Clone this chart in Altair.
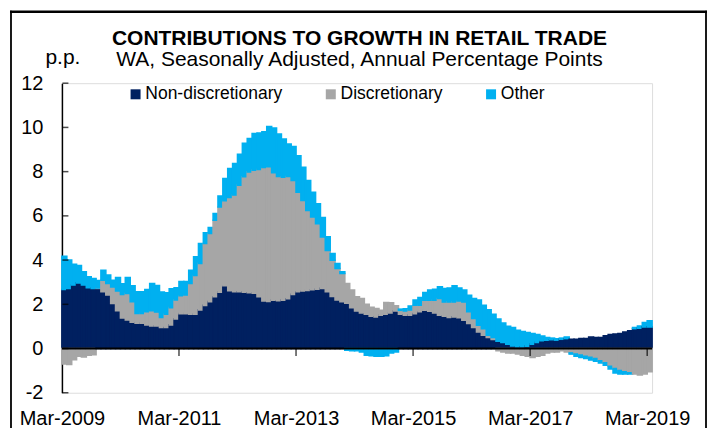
import altair as alt
import pandas as pd

# ---- data (monthly, Mar-2009 .. Mar-2019), annual percentage-point contributions ----
nondisc = [2.67, 2.72, 2.87, 2.97, 2.87, 2.75, 2.72, 2.72, 2.57, 2.42,
           2.04, 1.71, 1.38, 1.29, 1.19, 1.14, 1.14, 1.07, 1.02, 1.02,
           0.95, 0.95, 1.07, 1.34, 1.58, 1.58, 1.55, 1.55, 1.75, 1.95,
           2.12, 2.34, 2.55, 2.84, 2.62, 2.57, 2.57, 2.55, 2.52, 2.50,
           2.34, 2.15, 2.13, 2.19, 2.16, 2.19, 2.25, 2.45, 2.57, 2.60,
           2.63, 2.66, 2.68, 2.72, 2.57, 2.36, 2.20, 2.12, 2.05, 1.85,
           1.70, 1.61, 1.55, 1.46, 1.43, 1.51, 1.55, 1.61, 1.70, 1.55,
           1.51, 1.51, 1.58, 1.66, 1.73, 1.69, 1.61, 1.51, 1.46, 1.40,
           1.43, 1.39, 1.28, 1.13, 0.95, 0.75, 0.60, 0.50, 0.41, 0.33,
           0.27, 0.20, 0.12, 0.08, 0.08, 0.11, 0.20, 0.28, 0.35, 0.38,
           0.40, 0.38, 0.42, 0.45, 0.42, 0.42, 0.45, 0.45, 0.52, 0.50,
           0.50, 0.58, 0.63, 0.65, 0.68, 0.75, 0.80, 0.90, 0.92, 0.98,
           0.98]
disc = [-0.70, -0.72, -0.50, -0.35, -0.38, -0.30, -0.28, 0.02, 0.52, 0.52,
        0.75, 0.89, 1.07, 1.20, 0.93, 0.45, 0.45, 0.60, 0.69, 0.63,
        0.45, 0.60, 0.78, 0.86, 0.81, 0.84, 1.39, 1.75, 2.10, 2.80,
        3.08, 3.46, 3.85, 3.84, 4.21, 4.37, 4.82, 5.22, 5.47, 5.57,
        5.76, 6.04, 6.09, 5.76, 5.62, 5.56, 5.53, 5.15, 4.50, 4.10,
        3.62, 3.29, 2.97, 2.33, 1.87, 1.63, 1.42, 1.27, 0.89, 0.79,
        0.64, 0.65, 0.45, 0.40, 0.38, 0.22, 0.53, 0.46, 0.23, 0.18,
        0.19, 0.24, 0.38, 0.30, 0.46, 0.50, 0.58, 0.75, 0.65, 0.71,
        0.68, 0.76, 0.83, 0.53, 0.41, 0.31, 0.30, 0.10, 0.09, -0.10,
        -0.15, -0.20, -0.20, -0.25, -0.30, -0.35, -0.40, -0.35, -0.30, -0.20,
        -0.15, -0.15, -0.10, -0.15, -0.20, -0.25, -0.30, -0.35, -0.40, -0.45,
        -0.55, -0.65, -0.80, -0.90, -1.00, -1.05, -1.10, -1.15, -1.20, -1.15,
        -1.05]
other = [1.50, 1.28, 0.94, 0.78, 0.60, 0.49, 0.45, 0.33, 0.45, 0.38,
         0.30, 0.61, 0.48, 0.72, 0.72, 0.98, 0.98, 1.00, 1.23, 1.20,
         1.15, 0.97, 0.85, 0.55, 0.64, 0.61, 0.60, 0.85, 0.90, 0.48,
         0.27, 0.30, 0.50, 1.01, 1.31, 1.43, 1.39, 1.51, 1.51, 1.65,
         1.65, 1.61, 1.82, 2.02, 1.92, 1.72, 1.47, 1.53, 1.65, 1.50,
         1.35, 1.12, 0.90, 0.87, 0.61, 0.30, 0.22, 0.08, -0.08, -0.10,
         -0.10, -0.15, -0.30, -0.33, -0.35, -0.35, -0.33, -0.20, -0.15, 0.05,
         0.10, 0.17, 0.23, 0.35, 0.34, 0.45, 0.49, 0.53, 0.60, 0.63,
         0.73, 0.59, 0.53, 0.75, 0.90, 1.13, 1.06, 1.15, 1.05, 1.00,
         0.88, 0.81, 0.83, 0.75, 0.69, 0.61, 0.48, 0.35, 0.21, 0.12,
         0.07, 0.06, 0.05, 0.07, -0.05, -0.10, -0.10, -0.10, -0.12, -0.12,
         -0.10, -0.10, -0.12, -0.20, -0.15, -0.10, -0.05, 0.05, 0.10, 0.20,
         0.27]

series_names = ["Non-discretionary", "Discretionary", "Other"]
series_colors = ["#002060", "#A6A6A6", "#00B0F0"]
tick_idx = [0, 24, 48, 72, 96, 120]
tick_labels = ["Mar-2009", "Mar-2011", "Mar-2013", "Mar-2015", "Mar-2017", "Mar-2019"]
y_ticks = [-2, 0, 2, 4, 6, 8, 10, 12]

FONT = "Liberation Sans"
n_months = len(nondisc)

rows = []
for i in range(n_months):
    for k, vals in enumerate([nondisc, disc, other]):
        rows.append({"idx": i, "idx2": i + 1, "series": series_names[k],
                     "ord": k, "contrib": vals[i]})
df = pd.DataFrame(rows)

label_expr = "[" + ",".join("'%s'" % t for t in tick_labels) + "][round(datum.value / 24)]"

x_scale = alt.Scale(domain=[0, n_months], nice=False, zero=False)
y_scale = alt.Scale(domain=[-2, 12], nice=False)

bars = alt.Chart(df).transform_stack(
    stack="contrib", groupby=["idx"], as_=["value", "value2"],
    sort=[alt.SortField("ord", order="ascending")], offset="zero",
).mark_bar(strokeWidth=1.6).encode(
    x=alt.X("idx:Q", scale=x_scale,
            axis=alt.Axis(values=tick_idx, labelExpr=label_expr, domain=False,
                          ticks=False, tickSize=0, grid=False, labelFontSize=20,
                          labelFont=FONT, labelColor="black", labelPadding=16,
                          labelFlush=False, labelOverlap=False, title=None)),
    x2="idx2:Q",
    y=alt.Y("value:Q", scale=y_scale,
            axis=alt.Axis(values=y_ticks, labelExpr="'' + datum.value", domain=True,
                          domainColor="black", domainWidth=1.5, ticks=False, tickSize=0,
                          grid=False, labelFontSize=20, labelFont=FONT,
                          labelColor="black", labelPadding=19, title="p.p.",
                          titleAngle=0, titleX=-17, titleY=-20, titleAlign="left",
                          titleBaseline="alphabetic", titleFontSize=21,
                          titleFontWeight="normal", titleFont=FONT,
                          titleColor="black")),
    y2="value2:Q",
    color=alt.Color("series:N",
                    scale=alt.Scale(domain=series_names, range=series_colors),
                    legend=alt.Legend(title=None, orient="none", legendX=65, legendY=2,
                                      direction="horizontal", symbolType="square",
                                      symbolSize=100, symbolStrokeWidth=0,
                                      labelFontSize=17.5, labelFont=FONT,
                                      labelColor="black", labelOffset=1,
                                      columnPadding=39.5, padding=0)),
    stroke=alt.Stroke("series:N",
                      scale=alt.Scale(domain=series_names, range=series_colors),
                      legend=None),
)

zero_line = alt.Chart(pd.DataFrame({"idx": [0], "idx2": [n_months], "value": [0]})).mark_rule(
    color="black", strokeWidth=2).encode(x="idx:Q", x2="idx2:Q", y="value:Q")

x_ticks = alt.Chart(pd.DataFrame({"idx": tick_idx[1:], "value": [0] * (len(tick_idx) - 1)})).mark_tick(
    orient="vertical", size=7, thickness=1.5, color="black", yOffset=4).encode(
    x="idx:Q", y="value:Q")

y_tick_marks = alt.Chart(pd.DataFrame({"value": y_ticks})).mark_tick(
    orient="horizontal", size=6, thickness=1.5, color="black").encode(
    y="value:Q", x=alt.value(3.5))

# outer chart border (decoration): top, left and right edges
one = pd.DataFrame({"a": [0]})
frame_top = alt.Chart(one).mark_rule(color="black", strokeWidth=2.4).encode(
    x=alt.value(-52), x2=alt.value(646), y=alt.value(-71.5))
frame_left = alt.Chart(one).mark_rule(color="black", strokeWidth=1.8).encode(
    x=alt.value(-51), y=alt.value(-72.5), y2=alt.value(420))
frame_right = alt.Chart(one).mark_rule(color="black", strokeWidth=1.8).encode(
    x=alt.value(645), y=alt.value(-72.5), y2=alt.value(420))

chart = alt.layer(bars, zero_line, x_ticks, y_tick_marks, frame_left, frame_right,
                  frame_top).properties(
    width=591, height=310,
    autosize=alt.AutoSizeParams(type="none"),
    padding={"left": 54, "top": 75, "right": 56, "bottom": 35},
    title=alt.TitleParams(
        text="CONTRIBUTIONS TO GROWTH IN RETAIL TRADE",
        subtitle="WA, Seasonally Adjusted, Annual Percentage Points",
        font=FONT, fontSize=21, fontWeight="bold", color="black",
        subtitleFont=FONT, subtitleFontSize=21, subtitleColor="black",
        subtitlePadding=0, anchor="middle", offset=-60, dx=2.5),
).configure_view(strokeWidth=0).configure(font=FONT)

chart.save("out.html", embed_options={"renderer": "svg", "actions": False})
